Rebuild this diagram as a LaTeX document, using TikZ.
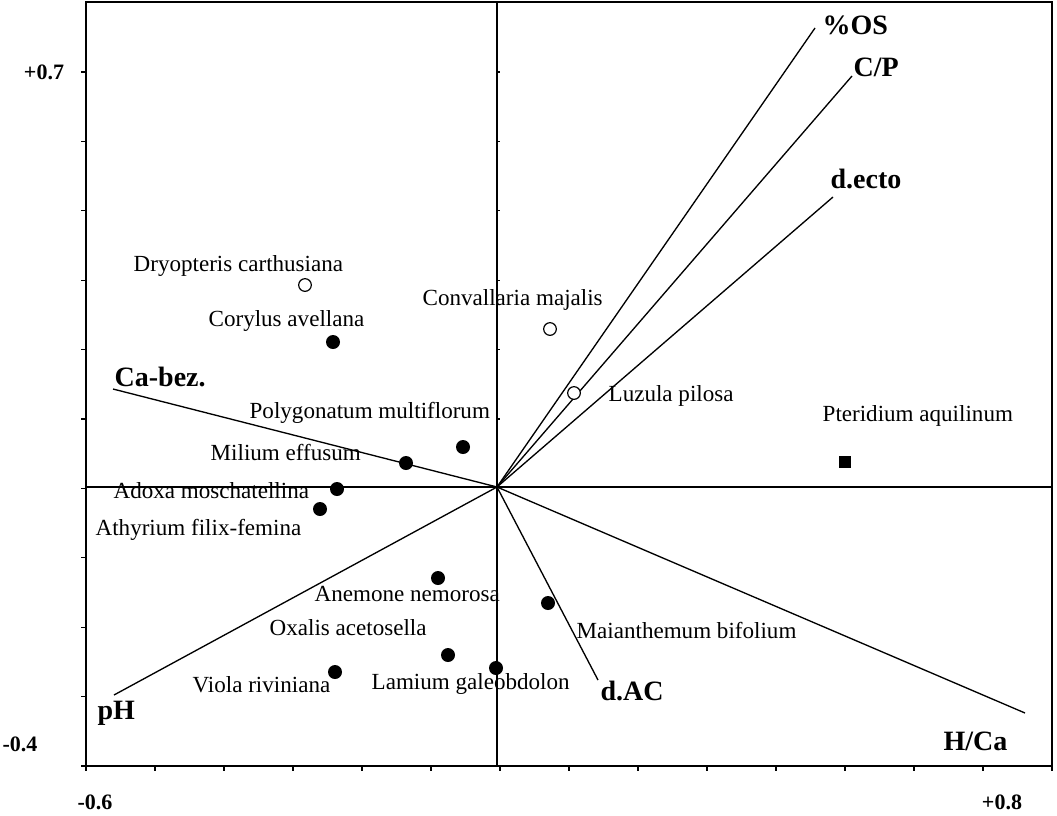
\documentclass[tikz,border=0pt]{standalone}
\usepackage{fontspec}
\setmainfont{Liberation Serif}
\usepackage{tikz}

\tikzset{
  spec/.style={font=\fontsize{17.3}{20}\selectfont, inner sep=0pt, anchor=west},
  envvar/.style={font=\fontsize{21}{24}\selectfont\bfseries, inner sep=0pt, anchor=west},
  axnum/.style={font=\fontsize{16.5}{19}\selectfont\bfseries, inner sep=0pt},
  fdot/.style={circle, fill=black, inner sep=0pt, minimum size=10.5pt},
  odot/.style={circle, draw=black, line width=0.9pt, fill=white, inner sep=0pt, minimum size=9.5pt},
  fsq/.style={rectangle, fill=black, inner sep=0pt, minimum size=9.5pt}
}

\begin{document}
\begin{tikzpicture}[x=0.75pt,y=0.75pt,yscale=-1,line width=1pt]
	\useasboundingbox (0,0) rectangle (1057,815);
	
	% frame, zero lines, ticks
	\draw    (86,2) rectangle (1052,766) ;
	\draw    (86,487) -- (1052,487) ;
	\draw    (497,2) -- (497,766) ;
	\foreach \i in {0,...,14}
		\draw (86+69*\i,766) -- (86+69*\i,771) ;
	\foreach \j in {0,...,10}
		\draw (86,766-69.4*\j) -- (81,766-69.4*\j) ;
	\foreach \j in {5,...,10}
		\draw (497,766-69.4*\j) -- (500,766-69.4*\j) ;
	
	\node[axnum] (ymax) at (44,72) {+0.7};
	\node[axnum] (ymin) at (20,744) {-0.4};
	\node[axnum] (xmin) at (95,802) {-0.6};
	\node[axnum] (xmax) at (1002,802) {+0.8};
	
	% environmental vectors
	\coordinate (O) at (497,487) ;
	\coordinate (OSend) at (815,28) ;
	\coordinate (CPend) at (852,76) ;
	\coordinate (ectoend) at (833,197) ;
	\coordinate (Caend) at (113,389) ;
	\coordinate (pHend) at (114,695) ;
	\coordinate (dACend) at (598,680) ;
	\coordinate (HCaend) at (1025,713) ;
	\draw    (O) -- (OSend) ;
	\draw    (O) -- (CPend) ;
	\draw    (O) -- (ectoend) ;
	\draw    (O) -- (Caend) ;
	\draw    (O) -- (pHend) ;
	\draw    (O) -- (dACend) ;
	\draw    (O) -- (HCaend) ;
	
	\node[envvar] (OS) at (822,25) {\%OS};
	\node[envvar] (CP) at (853,67) {C/P};
	\node[envvar] (ecto) at (830,179) {d.ecto};
	\node[envvar] (Cabez) at (114,377) {Ca-bez.};
	\node[envvar] (pH) at (97,713) {pH};
	\node[envvar] (dAC) at (600,691) {d.AC};
	\node[envvar] (HCa) at (943,741) {H/Ca};
	
	% species
	\node[odot] (dry) at (305,285) {};
	\node[odot] (con) at (550,329) {};
	\node[odot] (luz) at (574,393) {};
	\node[fsq] (pte) at (845,462) {};
	\node[fdot] (cor) at (333,342) {};
	\node[fdot] (pol) at (463,447) {};
	\node[fdot] (mil) at (406,463) {};
	\node[fdot] (ado) at (337,489) {};
	\node[fdot] (ath) at (320,509) {};
	\node[fdot] (ane) at (438,578) {};
	\node[fdot] (mai) at (548,603) {};
	\node[fdot] (oxa) at (448,655) {};
	\node[fdot] (lam) at (496,668) {};
	\node[fdot] (vio) at (335,672) {};
	
	\node[spec] (drylab) at (133,266) {Dryopteris carthusiana};
	\node[spec] (corlab) at (208,321) {Corylus avellana};
	\node[spec] (conlab) at (422,300) {Convallaria majalis};
	\node[spec] (luzlab) at (608,396) {Luzula pilosa};
	\node[spec] (ptelab) at (822,416) {Pteridium aquilinum};
	\node[spec] (pollab) at (249,413) {Polygonatum multiflorum};
	\node[spec] (millab) at (210,452) {Milium effusum};
	\node[spec] (adolab) at (113,491) {Adoxa moschatellina};
	\node[spec] (athlab) at (95,530) {Athyrium filix-femina};
	\node[spec] (anelab) at (314,594) {Anemone nemorosa};
	\node[spec] (oxalab) at (269,628) {Oxalis acetosella};
	\node[spec] (mailab) at (576,630) {Maianthemum bifolium};
	\node[spec] (violab) at (192,685) {Viola riviniana};
	\node[spec] (lamlab) at (371,684) {Lamium galeobdolon};
	
\end{tikzpicture}
\end{document}
